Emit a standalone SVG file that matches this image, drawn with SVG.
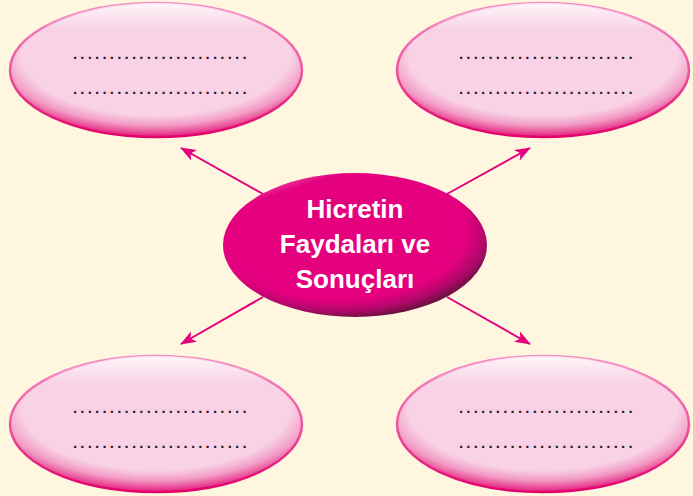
<svg xmlns="http://www.w3.org/2000/svg" width="693" height="496" viewBox="0 0 693 496">
<style>
.dots{font-family:"Liberation Sans",Arial,sans-serif;font-size:15px;font-weight:bold;fill:#2a2026;letter-spacing:3.2px}
.title{font-family:"Liberation Sans",Arial,sans-serif;font-size:26px;font-weight:bold;fill:#ffffff;text-anchor:middle}
.conn{stroke:#E5007D;stroke-width:2;fill:none;marker-end:url(#arr)}
.outer{fill:url(#og);stroke:url(#os);stroke-width:2.5}
</style>
<defs>
<radialGradient id="og" cx="0.5" cy="0.38" r="0.62">
<stop offset="0" stop-color="#F9D3E5"/>
<stop offset="0.74" stop-color="#F9D3E5"/>
<stop offset="0.86" stop-color="#F29CC6"/>
<stop offset="1" stop-color="#E41C7C"/>
</radialGradient>
<linearGradient id="oh" x1="0" y1="0" x2="0" y2="1">
<stop offset="0" stop-color="#ffffff" stop-opacity="0.8"/>
<stop offset="0.2" stop-color="#ffffff" stop-opacity="0"/>
<stop offset="1" stop-color="#ffffff" stop-opacity="0"/>
</linearGradient>
<linearGradient id="os" x1="0" y1="0" x2="0" y2="1">
<stop offset="0" stop-color="#F58CC2"/>
<stop offset="0.5" stop-color="#EE55A0"/>
<stop offset="1" stop-color="#E2006A"/>
</linearGradient>
<radialGradient id="cg" cx="0.44" cy="0.4" r="0.62">
<stop offset="0" stop-color="#E6007E"/>
<stop offset="0.78" stop-color="#E4007E"/>
<stop offset="0.9" stop-color="#B0086A"/>
<stop offset="1" stop-color="#5E1238"/>
</radialGradient>
<linearGradient id="ch" x1="0" y1="0" x2="0.6" y2="1">
<stop offset="0" stop-color="#ffffff" stop-opacity="0.75"/>
<stop offset="0.2" stop-color="#ffffff" stop-opacity="0"/>
<stop offset="1" stop-color="#ffffff" stop-opacity="0"/>
</linearGradient>
<marker id="arr" viewBox="0 0 16 12" refX="15" refY="6" markerWidth="16" markerHeight="12" markerUnits="userSpaceOnUse" orient="auto">
<path d="M0,0 L16,6 L0,12 L4,6 Z" fill="#E5007D"/>
</marker>
</defs>
<rect width="693" height="496" fill="#FEF6DF"/>
<g id="connectors">
<line class="conn" x1="263" y1="194" x2="181" y2="148"/>
<line class="conn" x1="447" y1="194" x2="530" y2="148"/>
<line class="conn" x1="263" y1="297" x2="181" y2="344"/>
<line class="conn" x1="447" y1="297" x2="530" y2="344"/>
</g>
<g id="node-top-left">
<ellipse class="outer" cx="156" cy="70" rx="146" ry="67"/>
<ellipse cx="156" cy="70" rx="146" ry="67" fill="url(#oh)"/>
<text class="dots" x="73" y="59">........................</text>
<text class="dots" x="73" y="94">........................</text>
</g>
<g id="node-top-right">
<ellipse class="outer" cx="543" cy="70" rx="146" ry="67"/>
<ellipse cx="543" cy="70" rx="146" ry="67" fill="url(#oh)"/>
<text class="dots" x="459" y="59">........................</text>
<text class="dots" x="459" y="94">........................</text>
</g>
<g id="node-bottom-left">
<ellipse class="outer" cx="156" cy="424" rx="146" ry="68"/>
<ellipse cx="156" cy="424" rx="146" ry="68" fill="url(#oh)"/>
<text class="dots" x="73" y="413">........................</text>
<text class="dots" x="73" y="448">........................</text>
</g>
<g id="node-bottom-right">
<ellipse class="outer" cx="543" cy="424" rx="146" ry="68"/>
<ellipse cx="543" cy="424" rx="146" ry="68" fill="url(#oh)"/>
<text class="dots" x="459" y="413">........................</text>
<text class="dots" x="459" y="448">........................</text>
</g>
<g id="node-center">
<ellipse cx="355" cy="245" rx="132" ry="72" fill="url(#cg)"/>
<ellipse cx="355" cy="245" rx="132" ry="72" fill="url(#ch)"/>
<text class="title" x="355" y="218">Hicretin</text>
<text class="title" x="355" y="253">Faydaları ve</text>
<text class="title" x="355" y="288">Sonuçları</text>
</g>
</svg>
